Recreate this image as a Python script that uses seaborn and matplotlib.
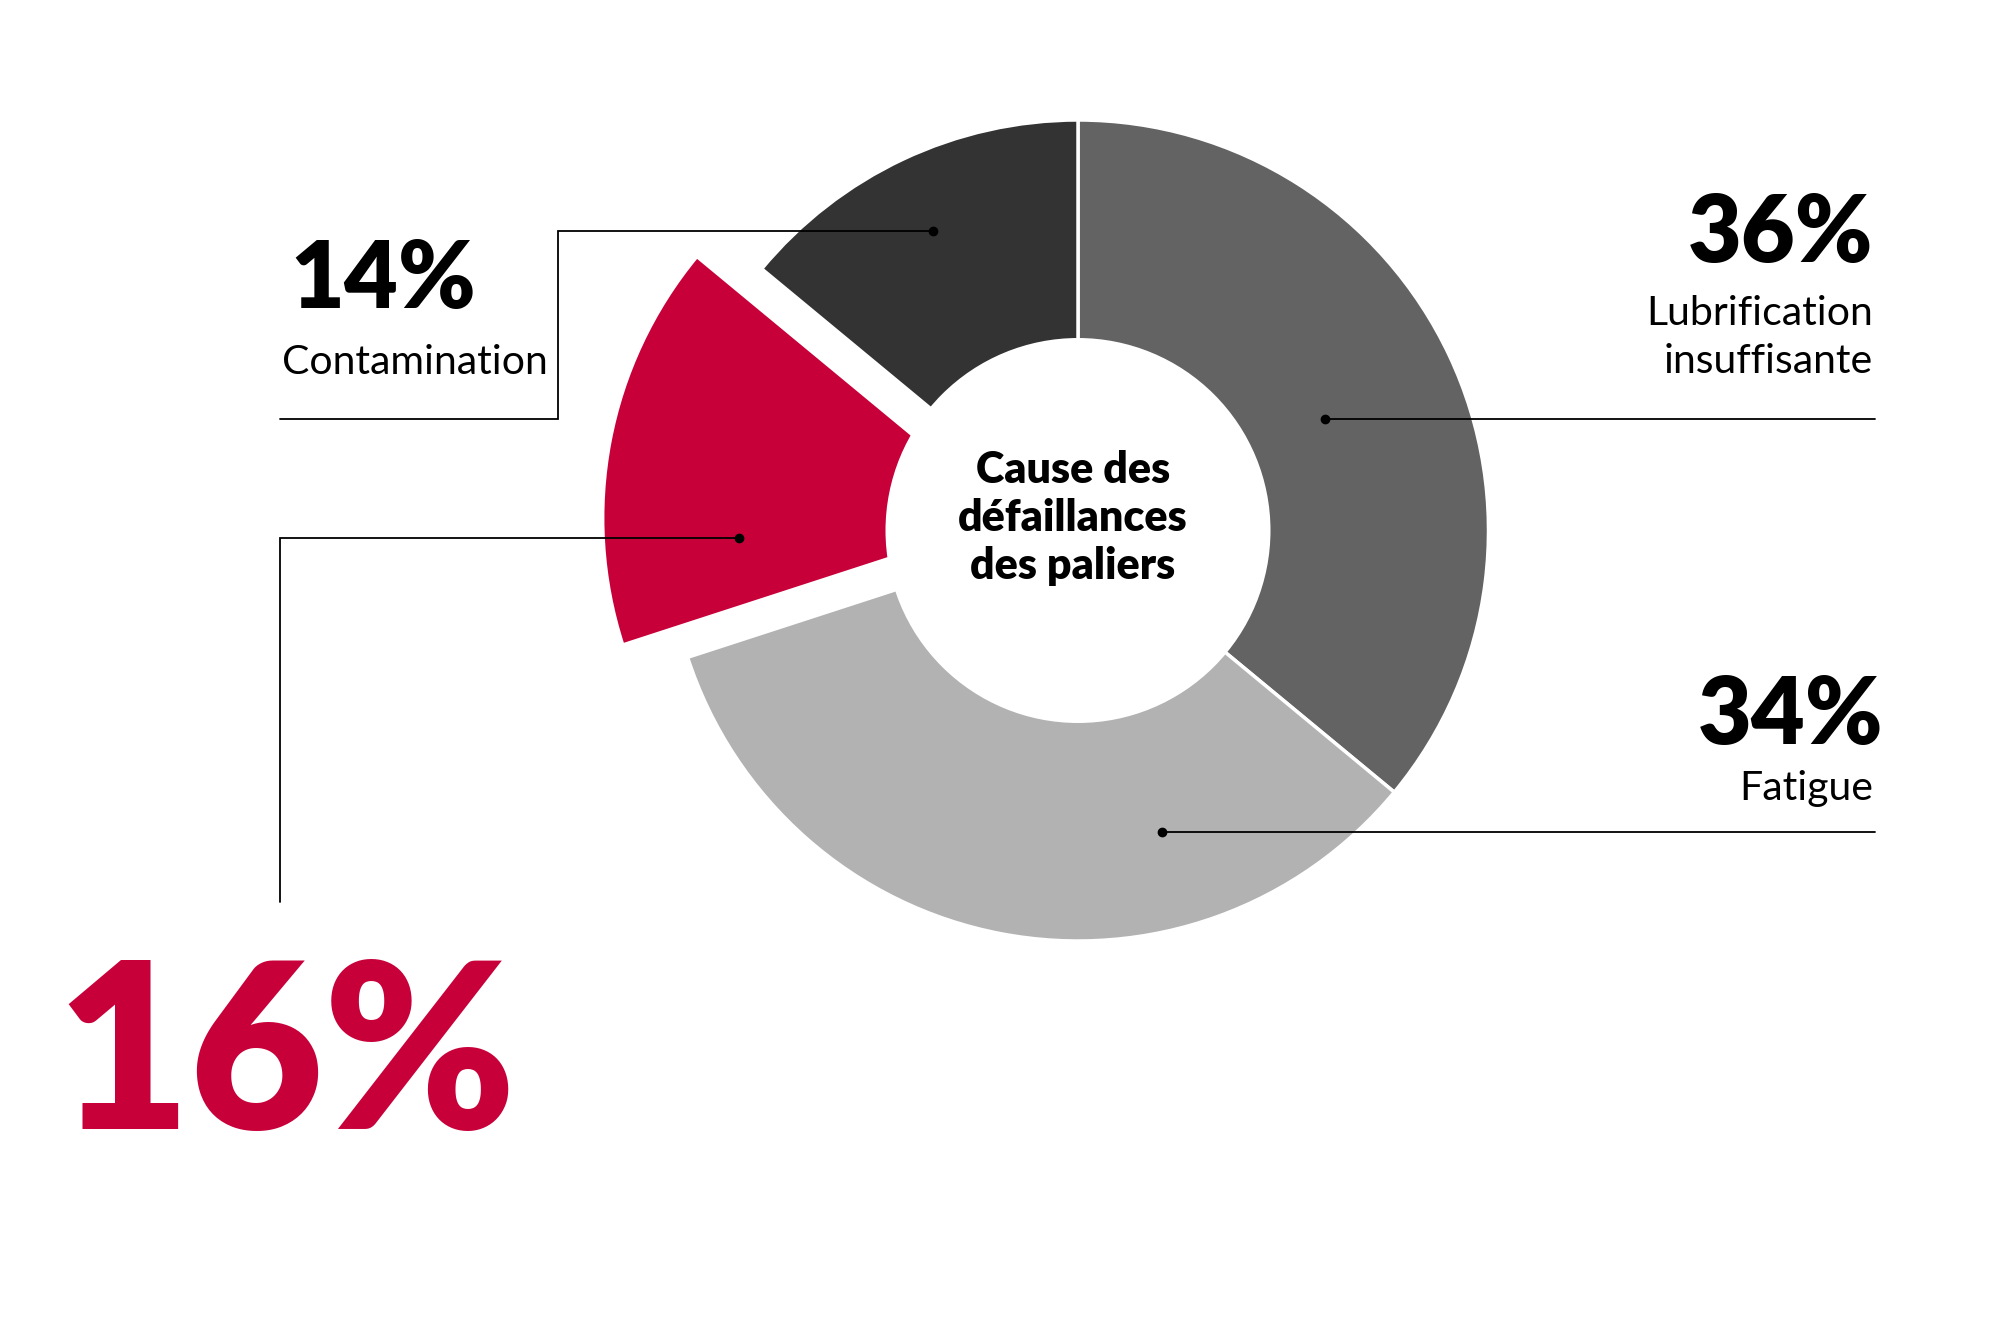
import matplotlib
matplotlib.use("Agg")
import matplotlib.pyplot as plt
from matplotlib.patches import Circle
import seaborn as sns

# données du graphique (sens horaire depuis le haut)
causes = ["Lubrification\ninsuffisante", "Fatigue", "", "Contamination"]
shares = [36, 34, 16, 14]
slice_colors = ["#636363", "#b2b2b2", "#c8003a", "#333333"]
highlight = [False, False, True, False]
center_title = "Cause des\ndéfaillances\ndes paliers"

W, H = 1989, 1326

sns.set_theme(style="white")
plt.rcParams["font.family"] = ["Lato", "DejaVu Sans"]

fig = plt.figure(figsize=(W / 100, H / 100), dpi=100)
ax = fig.add_axes([0, 0, 1, 1])

# --- Donut ---
cx, cy = 1078, H - 530.5
R, r_hole = 410.5, 192.5
ax.pie(shares, colors=slice_colors, startangle=90, counterclock=False,
       explode=[66 if h else 0 for h in highlight], center=(cx, cy), radius=R,
       wedgeprops=dict(edgecolor="white", linewidth=2.5))
# trou central (comme un cercle blanc par-dessus)
ax.add_patch(Circle((cx, cy), r_hole, facecolor="white", edgecolor="none", zorder=3))

for i, line in enumerate(center_title.split("\n")):
    ax.text(1073, H - [483, 531, 579][i], line, ha="center", va="baseline",
            fontsize=31, fontweight="heavy", color="black", zorder=5)

# --- lignes de rappel ---
def leader(pts):
    xs = [p[0] for p in pts]
    ys = [H - p[1] for p in pts]
    ax.plot(xs, ys, color="black", lw=1.3, zorder=4, solid_joinstyle="miter")
    ax.plot(xs[0], ys[0], "o", color="black", ms=6, zorder=4)

leader([(1325, 419), (1875, 419)])
leader([(1162, 832), (1875, 832)])
leader([(933, 231), (558, 231), (558, 419), (280, 419)])
leader([(739, 538), (280, 538), (280, 902)])

# --- étiquettes ---
big = dict(fontweight="heavy", color="black", va="baseline")
small = dict(fontweight="normal", color="black", fontsize=29.5, va="baseline")

# Lubrification insuffisante
ax.text(1873, H - 262, f"{shares[0]}%", ha="right", fontsize=67, **big)
for line, yb in zip(causes[0].split("\n"), [325, 373]):
    ax.text(1873, H - yb, line, ha="right", **small)

# Fatigue
ax.text(1883, H - 744, f"{shares[1]}%", ha="right", fontsize=67, **big)
ax.text(1873, H - 800, causes[1], ha="right", **small)

# Contamination
ax.text(290, H - 308, f"{shares[3]}%", ha="left", fontsize=67, **big)
ax.text(282, H - 374, causes[3], ha="left", **small)

# part mise en avant
ax.text(56, H - 1129, f"{shares[2]}%", ha="left", fontsize=166,
        fontweight="heavy", color=slice_colors[2], va="baseline")

ax.set_xlim(0, W)
ax.set_ylim(0, H)
ax.set_aspect("equal")
ax.axis("off")

fig.savefig("out.png", dpi=100, facecolor="white")
